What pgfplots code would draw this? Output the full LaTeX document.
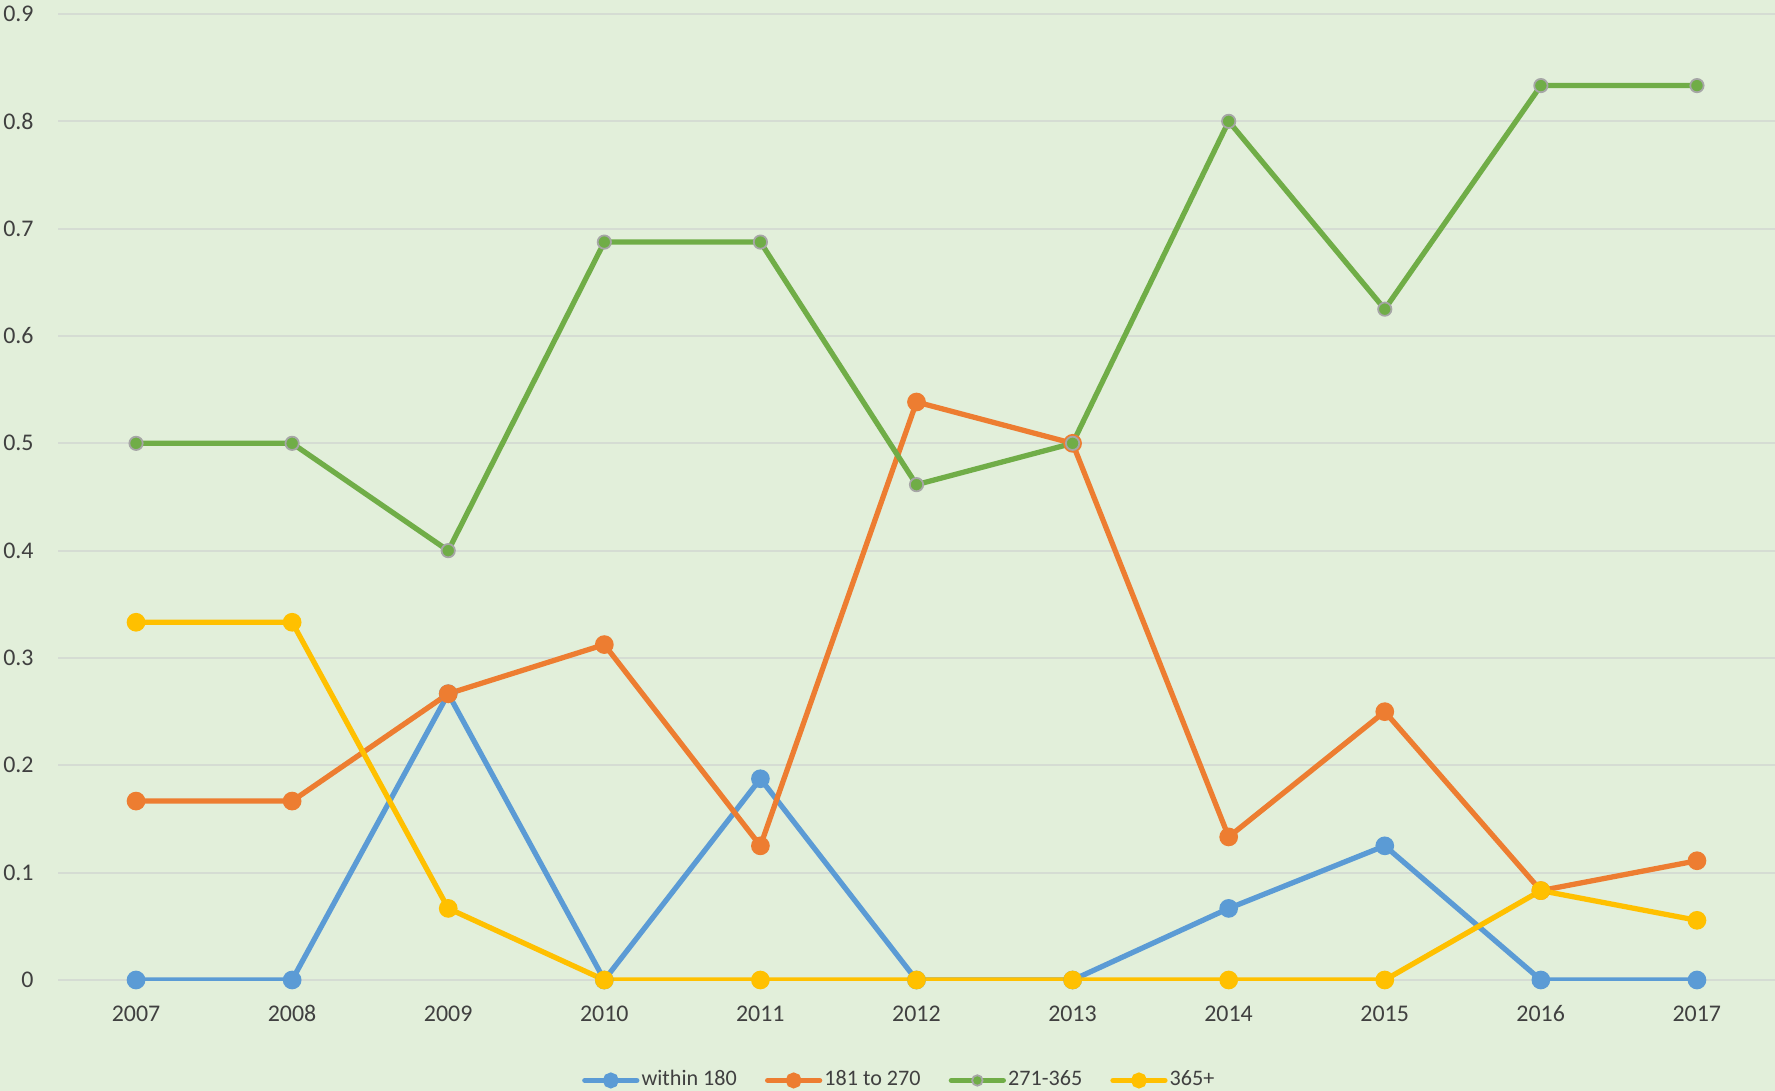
\documentclass[border=0pt]{standalone}
\usepackage{fontspec}
\setmainfont{Carlito}
\usepackage{pgfplots}
\pgfplotsset{compat=1.18}

\definecolor{bg}{HTML}{E2EFDA}
\definecolor{cblue}{HTML}{5B9BD5}
\definecolor{corange}{HTML}{ED7D31}
\definecolor{cgreen}{HTML}{70AD47}
\definecolor{cyellow}{HTML}{FFC000}
\definecolor{gridc}{HTML}{D5DCD3}
\definecolor{txt}{HTML}{404040}

\begin{document}
\begin{tikzpicture}
\fill[bg] (-0.58cm,-1.11cm) rectangle (17.17cm,9.80cm);
\path[use as bounding box] (-0.58cm,-1.11cm) rectangle (17.17cm,9.80cm);
\begin{axis}[
    scale only axis,
    width=17.17cm, height=9.66cm,
    xmin=2006.5, xmax=2017.5,
    ymin=0, ymax=0.9,
    xtick={2007,...,2017},
    ytick={0,0.1,...,0.9},
    xticklabel style={/pgf/number format/1000 sep={}, text height=1.6mm, text depth=0mm, yshift=-1.3mm},
    yticklabel style={/pgf/number format/fixed, xshift=-1.2mm},
    /pgf/number format/assume math mode=true,
    ticklabel style={font=\fontsize{6.8}{8}\selectfont, text=txt},
    axis line style={draw=none},
    major tick length=0pt,
    ymajorgrids,
    grid style={gridc, line width=0.6pt},
    every axis plot/.append style={line width=1.5pt, mark=*, mark size=1.9pt},
    legend columns=4,
    legend style={at={(0.49,-0.104)}, anchor=center, draw=none, fill=none,
        font=\fontsize{6.3}{7.5}\selectfont, text=txt,
        nodes={inner sep=0.6pt},
        /tikz/every even column/.append style={column sep=2.6mm}},
    legend image code/.code={
        \draw[#1, mark=none, line cap=round] (0mm,0mm) -- (5.2mm,0mm);
        \draw[#1, only marks, mark size=1.5pt] plot coordinates {(2.6mm,0mm)};
    },
]
\addplot[cblue, mark options={fill=cblue, draw=cblue}] coordinates {
    (2007,0) (2008,0) (2009,0.2667) (2010,0) (2011,0.1875) (2012,0)
    (2013,0) (2014,0.0667) (2015,0.125) (2016,0) (2017,0)
};
\addlegendentry{within 180}
\addplot[corange, mark options={fill=corange, draw=corange}] coordinates {
    (2007,0.1667) (2008,0.1667) (2009,0.2667) (2010,0.3125) (2011,0.125) (2012,0.5385)
    (2013,0.5) (2014,0.1333) (2015,0.25) (2016,0.0833) (2017,0.1111)
};
\addlegendentry{181 to 270}
\addplot[cgreen, mark options={fill=cgreen, draw=gray!70, line width=0.5pt}] coordinates {
    (2007,0.5) (2008,0.5) (2009,0.4) (2010,0.6875) (2011,0.6875) (2012,0.4615)
    (2013,0.5) (2014,0.8) (2015,0.625) (2016,0.8333) (2017,0.8333)
};
\addlegendentry{271-365}
\addplot[cyellow, mark options={fill=cyellow, draw=cyellow}] coordinates {
    (2007,0.3333) (2008,0.3333) (2009,0.0667) (2010,0) (2011,0) (2012,0)
    (2013,0) (2014,0) (2015,0) (2016,0.0833) (2017,0.0556)
};
\addlegendentry{365+}
\end{axis}
\end{tikzpicture}
\end{document}
